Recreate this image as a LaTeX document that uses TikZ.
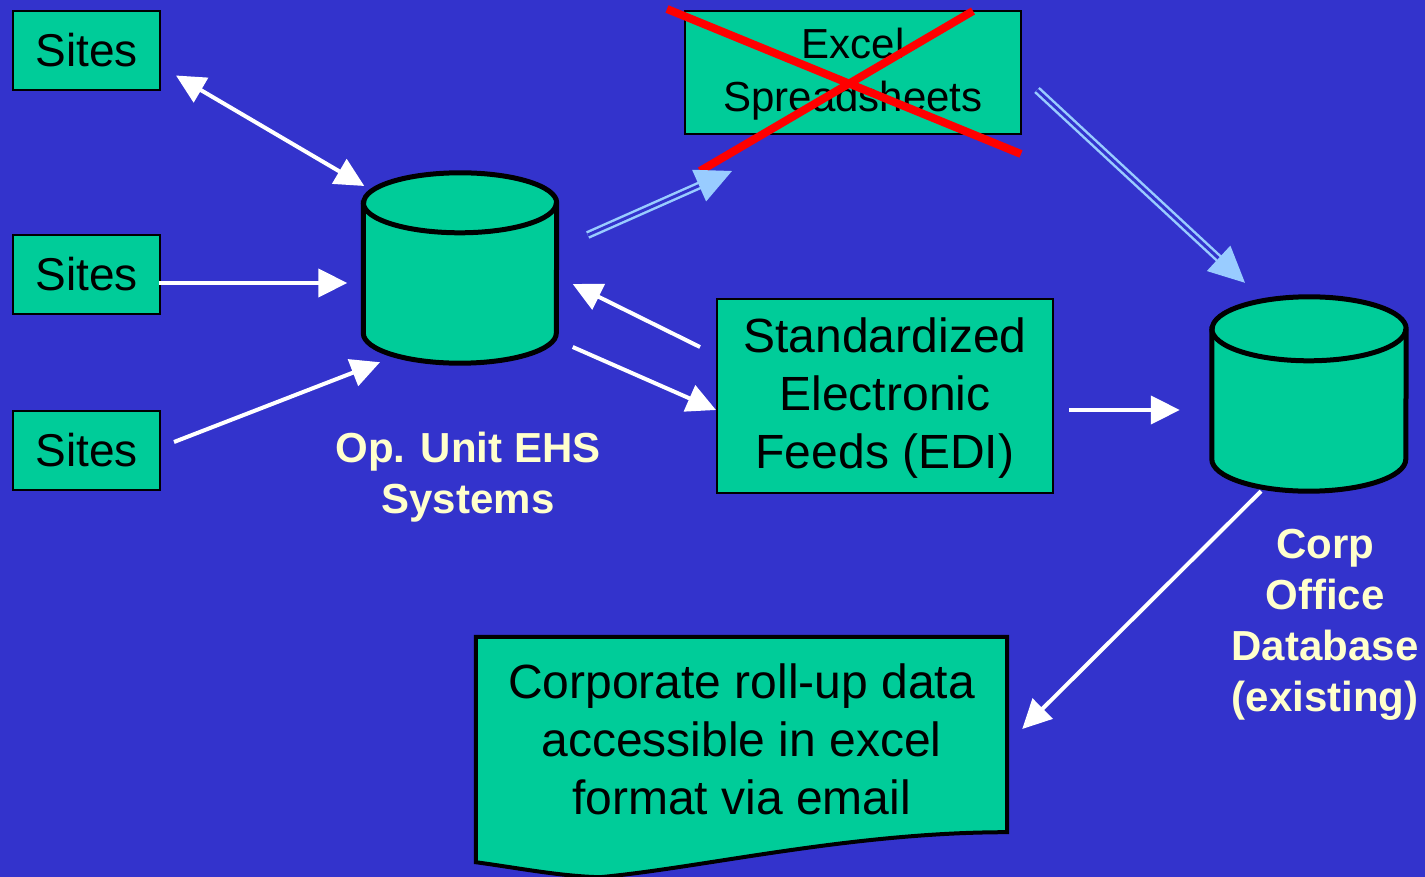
\documentclass[tikz,border=0pt]{standalone}
\usepackage{fontspec}
\setmainfont{Liberation Sans}
\usetikzlibrary{positioning,arrows.meta}
\definecolor{bgblue}{HTML}{3333CC}
\definecolor{boxgreen}{HTML}{00CC99}
\definecolor{lblyellow}{HTML}{FFFFCC}
\definecolor{feedblue}{HTML}{99CCFF}
\tikzset{
 greenbox/.style={draw=black,fill=boxgreen,line width=2pt,inner sep=0pt,align=center},
 dbframe/.style={inner sep=0pt,minimum width=193pt,minimum height=190pt},
 dbline/.style={draw=black,fill=boxgreen,line width=5pt},
 whitearrow/.style={white,line width=4pt,-{Triangle[length=29pt,width=28pt]}},
 feedarrow/.style={feedblue,double=bgblue,double distance=3pt,line width=2.5pt,-{Triangle[length=36pt,width=34pt]}},
 caption/.style={text=lblyellow,font=\bfseries\fontsize{42}{51}\selectfont,align=center},
 crossout/.style={red,line width=8pt}
}

\begin{document}
\begin{tikzpicture}[x=1pt,y=-1pt]
 \fill[bgblue] (0,0) rectangle (1425,877);
 \useasboundingbox (0,0) rectangle (1425,877);
 \node[greenbox,minimum width=147pt,minimum height=79pt,font=\fontsize{46}{58}\selectfont] (sitesA) at (86.5,50.5) {Sites};
 \node[greenbox,minimum width=147pt,minimum height=79pt,font=\fontsize{46}{58}\selectfont] (sitesB) at (86.5,274.5) {Sites};
 \node[greenbox,minimum width=147pt,minimum height=79pt,font=\fontsize{46}{58}\selectfont] (sitesC) at (86.5,450.5) {Sites};
 \node[greenbox,minimum width=336pt,minimum height=123pt,text depth=6pt,font=\fontsize{42}{53}\selectfont] (excel) at (853,72.5) {Excel\\Spreadsheets};
 \node[greenbox,minimum width=336pt,minimum height=194pt,text depth=6pt,font=\fontsize{48}{58}\selectfont] (edi) at (885,396) {Standardized\\Electronic\\Feeds (EDI)};
 \node[caption] (opsLabel) at (468,477) {Op. Unit EHS\\Systems};
 \node[caption] (corpLabel) at (1325,625) {Corp\\Office\\Database\\(existing)};

 \node[dbframe] (ops) at (460,268) {};
 \draw[dbline] ([shift={(0,30)}]ops.north west) -- ([shift={(0,-30)}]ops.south west)
   arc[start angle=180,end angle=360,x radius=96.5pt,y radius=30pt]
   -- ([shift={(0,30)}]ops.north east)
   arc[start angle=0,end angle=180,x radius=96.5pt,y radius=30pt] -- cycle;
 \draw[dbline,fill=none] ([shift={(0,30)}]ops.north west) arc[start angle=180,end angle=360,x radius=96.5pt,y radius=30pt];

 \node[dbframe,minimum width=194pt,minimum height=194pt] (corp) at (1309,394) {};
 \draw[dbline] ([shift={(0,32)}]corp.north west) -- ([shift={(0,-32)}]corp.south west)
   arc[start angle=180,end angle=360,x radius=97pt,y radius=32pt]
   -- ([shift={(0,32)}]corp.north east)
   arc[start angle=0,end angle=180,x radius=97pt,y radius=32pt] -- cycle;
 \draw[dbline,fill=none] ([shift={(0,32)}]corp.north west) arc[start angle=180,end angle=360,x radius=97pt,y radius=32pt];

 \node[inner sep=0pt,minimum width=531pt,minimum height=195pt] (doc) at (741.5,734.5) {};
 \draw[black,line width=4pt,fill=boxgreen] (doc.north west) -- (doc.north east) -- (doc.south east)
   .. controls +(-157,0) and +(100,-9) .. ([shift={(124,45)}]doc.south west)
   .. controls +(-40,-1) and +(44,6) .. ([shift={(0,30)}]doc.south west) -- cycle;
 \node[inner sep=0pt,align=center,font=\fontsize{48}{58}\selectfont] (docText) at ([shift={(0,5)}]doc.center) {Corporate roll-up data\\accessible in excel\\format via email};

 \draw[crossout] ([shift={(-17,-1)}]excel.north west) -- ([shift={(-1,19)}]excel.south east);
 \draw[crossout] ([shift={(-49,1)}]excel.north east) -- ([shift={(16,36)}]excel.south west);

 \draw[whitearrow,{Triangle[length=29pt,width=28pt]}-{Triangle[length=29pt,width=28pt]}] ([shift={(15,25)}]sitesA.east) -- ([shift={(1,-82)}]ops.west);
 \draw[whitearrow] ([shift={(-2,8.5)}]sitesB.east) -- ([shift={(-16,15)}]ops.west);
 \draw[whitearrow] ([shift={(13,-8.5)}]sitesC.east) -- ([shift={(-80,-1)}]ops.south);
 \draw[feedarrow] ([shift={(31,-33)}]ops.east) -- ([shift={(48,36)}]excel.south west);
 \draw[feedarrow] ([shift={(15,17.5)}]excel.east) -- ([shift={(-64,-14)}]corp.north);
 \draw[whitearrow] ([shift={(-16,-49)}]edi.west) -- ([shift={(16,16)}]ops.east);
 \draw[whitearrow] ([shift={(16,79)}]ops.east) -- ([shift={(0,14)}]edi.west);
 \draw[whitearrow] ([shift={(15,14)}]edi.east) -- ([shift={(-32,16)}]corp.west);
 \draw[whitearrow] ([shift={(-48,0)}]corp.south) -- ([shift={(15,-5.5)}]doc.east);
\end{tikzpicture}
\end{document}
